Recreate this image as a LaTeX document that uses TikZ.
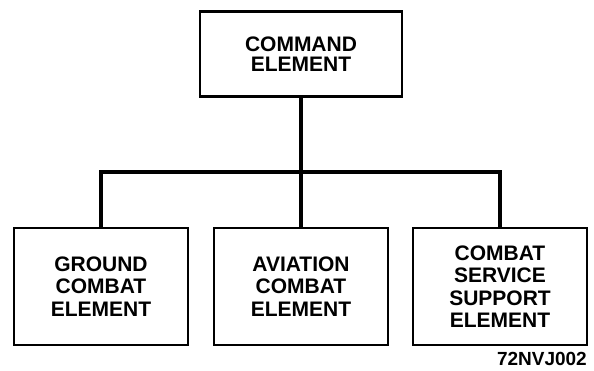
\documentclass[tikz,border=0pt]{standalone}
\usepackage{fontspec}
\setmainfont{Liberation Sans}
\usetikzlibrary{positioning}
\tikzset{
  box/.style={draw, line width=2.4pt, minimum width=174pt, minimum height=117pt, inner sep=0pt,
    align=center, font=\bfseries\fontsize{21}{22.5}\selectfont},
  link/.style={line width=4pt}
}
\begin{document}
\begin{tikzpicture}[x=1pt, y=-1pt]
\useasboundingbox (0,0) rectangle (594,370);
\node[box, minimum width=202pt, minimum height=85pt, font=\bfseries\fontsize{21}{19.5}\selectfont] (cmd) at (301,54) {COMMAND\\ELEMENT};
\node[box] (gce) at (101,286.5) {GROUND\\COMBAT\\ELEMENT};
\node[box] (ace) at (301,286.5) {AVIATION\\COMBAT\\ELEMENT};
\node[box] (csse) at (500,286.5) {COMBAT\\SERVICE\\SUPPORT\\ELEMENT};
\node[anchor=base east, inner sep=0pt, font=\bfseries\fontsize{19}{19}\selectfont] (fig) at (587,365) {72NVJ002};
\coordinate (bar) at (301,172);
\draw[link] (cmd.south) -- (ace.north);
\draw[link] (gce.north) |- (bar) -| (csse.north);
\end{tikzpicture}
\end{document}
